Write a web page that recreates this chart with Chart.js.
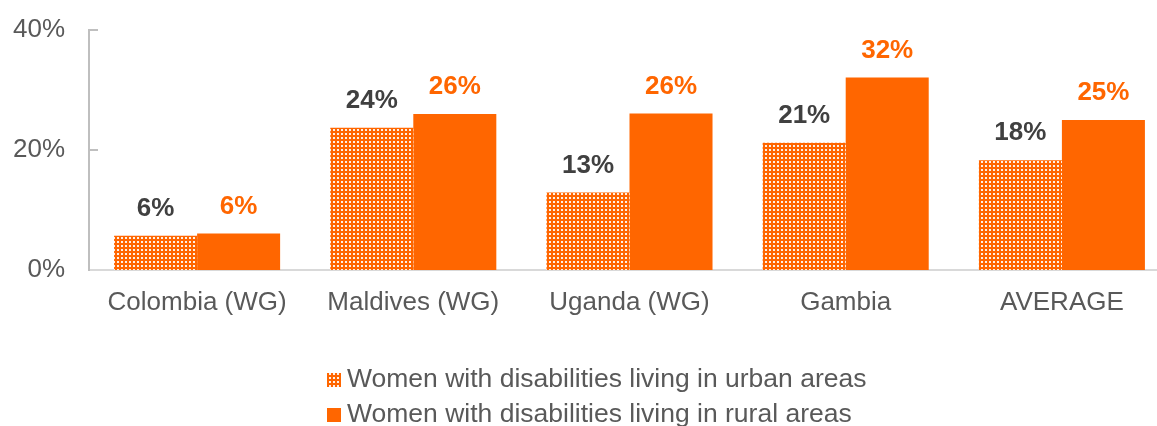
<!DOCTYPE html>
<html>
<head>
<meta charset="utf-8">
<script src="https://cdn.jsdelivr.net/npm/chart.js@4"></script>
<style>
  html, body { margin: 0; padding: 0; background: #fff; overflow: hidden; }
  #wrap { width: 1157px; height: 426px; overflow: hidden; position: relative; }
  canvas { display: block; }
</style>
</head>
<body>
<div id="wrap"><canvas id="c" width="1172" height="426"></canvas></div>
<script>
const categories = ['Colombia (WG)', 'Maldives (WG)', 'Uganda (WG)', 'Gambia', 'AVERAGE'];
const urbanValues = [5.7, 23.7, 12.9, 21.2, 18.3];
const ruralValues = [6.1, 26.0, 26.1, 32.1, 25.0];
const seriesLabels = ['Women with disabilities living in urban areas', 'Women with disabilities living in rural areas'];
const yTickValues = [0, 20, 40];

const ORANGE = '#FF6600';
const FONT = '"Liberation Sans", Arial, sans-serif';

function makePattern() {
  const p = document.createElement('canvas');
  p.width = 4; p.height = 4;
  const g = p.getContext('2d');
  g.fillStyle = ORANGE;
  g.fillRect(0, 0, 4, 4);
  g.fillStyle = 'rgba(255,255,255,0.9)';
  g.fillRect(1, 1, 2, 2);
  return g.createPattern(p, 'repeat');
}
const ctx = document.getElementById('c').getContext('2d');
const urbanPattern = makePattern();

const overlayPlugin = {
  id: 'overlay',
  afterDatasetsDraw(chart) {
    const c = chart.ctx;
    const y = chart.scales.y;
    c.save();
    c.strokeStyle = '#BFBFBF';
    c.lineWidth = 2;
    yTickValues.filter(v => v > 0).forEach(v => {
      const py = Math.round(y.getPixelForValue(v));
      c.beginPath();
      c.moveTo(chart.chartArea.left, py);
      c.lineTo(chart.chartArea.left + 9, py);
      c.stroke();
    });
    c.font = 'bold 26px ' + FONT;
    c.textAlign = 'center';
    c.textBaseline = 'middle';
    chart.data.datasets.forEach((ds, di) => {
      const meta = chart.getDatasetMeta(di);
      c.fillStyle = di === 0 ? '#404040' : ORANGE;
      meta.data.forEach((bar, i) => {
        c.fillText(Math.round(ds.data[i]) + '%', bar.x, bar.y - 27);
      });
    });
    c.font = '26.5px ' + FONT;
    c.textAlign = 'left';
    const rows = [380, 415];
    chart.data.datasets.forEach((ds, di) => {
      const cy = rows[di];
      c.fillStyle = ds.backgroundColor;
      c.fillRect(327, cy - 7, 14, 14);
      c.fillStyle = '#595959';
      c.fillText(ds.label, 347, cy);
    });
    c.restore();
  }
};

new Chart(ctx, {
  type: 'bar',
  data: {
    labels: categories,
    datasets: [
      { label: seriesLabels[0], data: urbanValues, backgroundColor: urbanPattern, borderWidth: 0 },
      { label: seriesLabels[1], data: ruralValues, backgroundColor: ORANGE, borderWidth: 0 }
    ]
  },
  options: {
    responsive: false,
    animation: false,
    devicePixelRatio: 1,
    layout: { padding: { top: 30, right: 2, left: 0, bottom: 0 } },
    datasets: { bar: { categoryPercentage: 0.768, barPercentage: 1.0 } },
    plugins: { legend: { display: false }, tooltip: { enabled: false } },
    scales: {
      x: {
        grid: { display: false, drawTicks: false },
        border: { display: true, color: '#D9D9D9', width: 2 },
        ticks: { color: '#595959', font: { family: FONT, size: 26 }, padding: 17, maxRotation: 0 },
        afterFit(s) { s.height = 156; s.paddingLeft = 0; s.paddingRight = 0; }
      },
      y: {
        min: 0, max: 40,
        afterBuildTicks(s) { s.ticks = yTickValues.map(v => ({ value: v })); },
        grid: { display: false, drawTicks: false },
        border: { display: true, color: '#BFBFBF', width: 2 },
        ticks: { color: '#595959', font: { family: FONT, size: 26 }, padding: 24, callback: v => v + '%' },
        afterFit(s) { s.width = 89; s.paddingTop = 0; s.paddingBottom = 0; }
      }
    }
  },
  plugins: [overlayPlugin]
});
</script>
</body>
</html>
